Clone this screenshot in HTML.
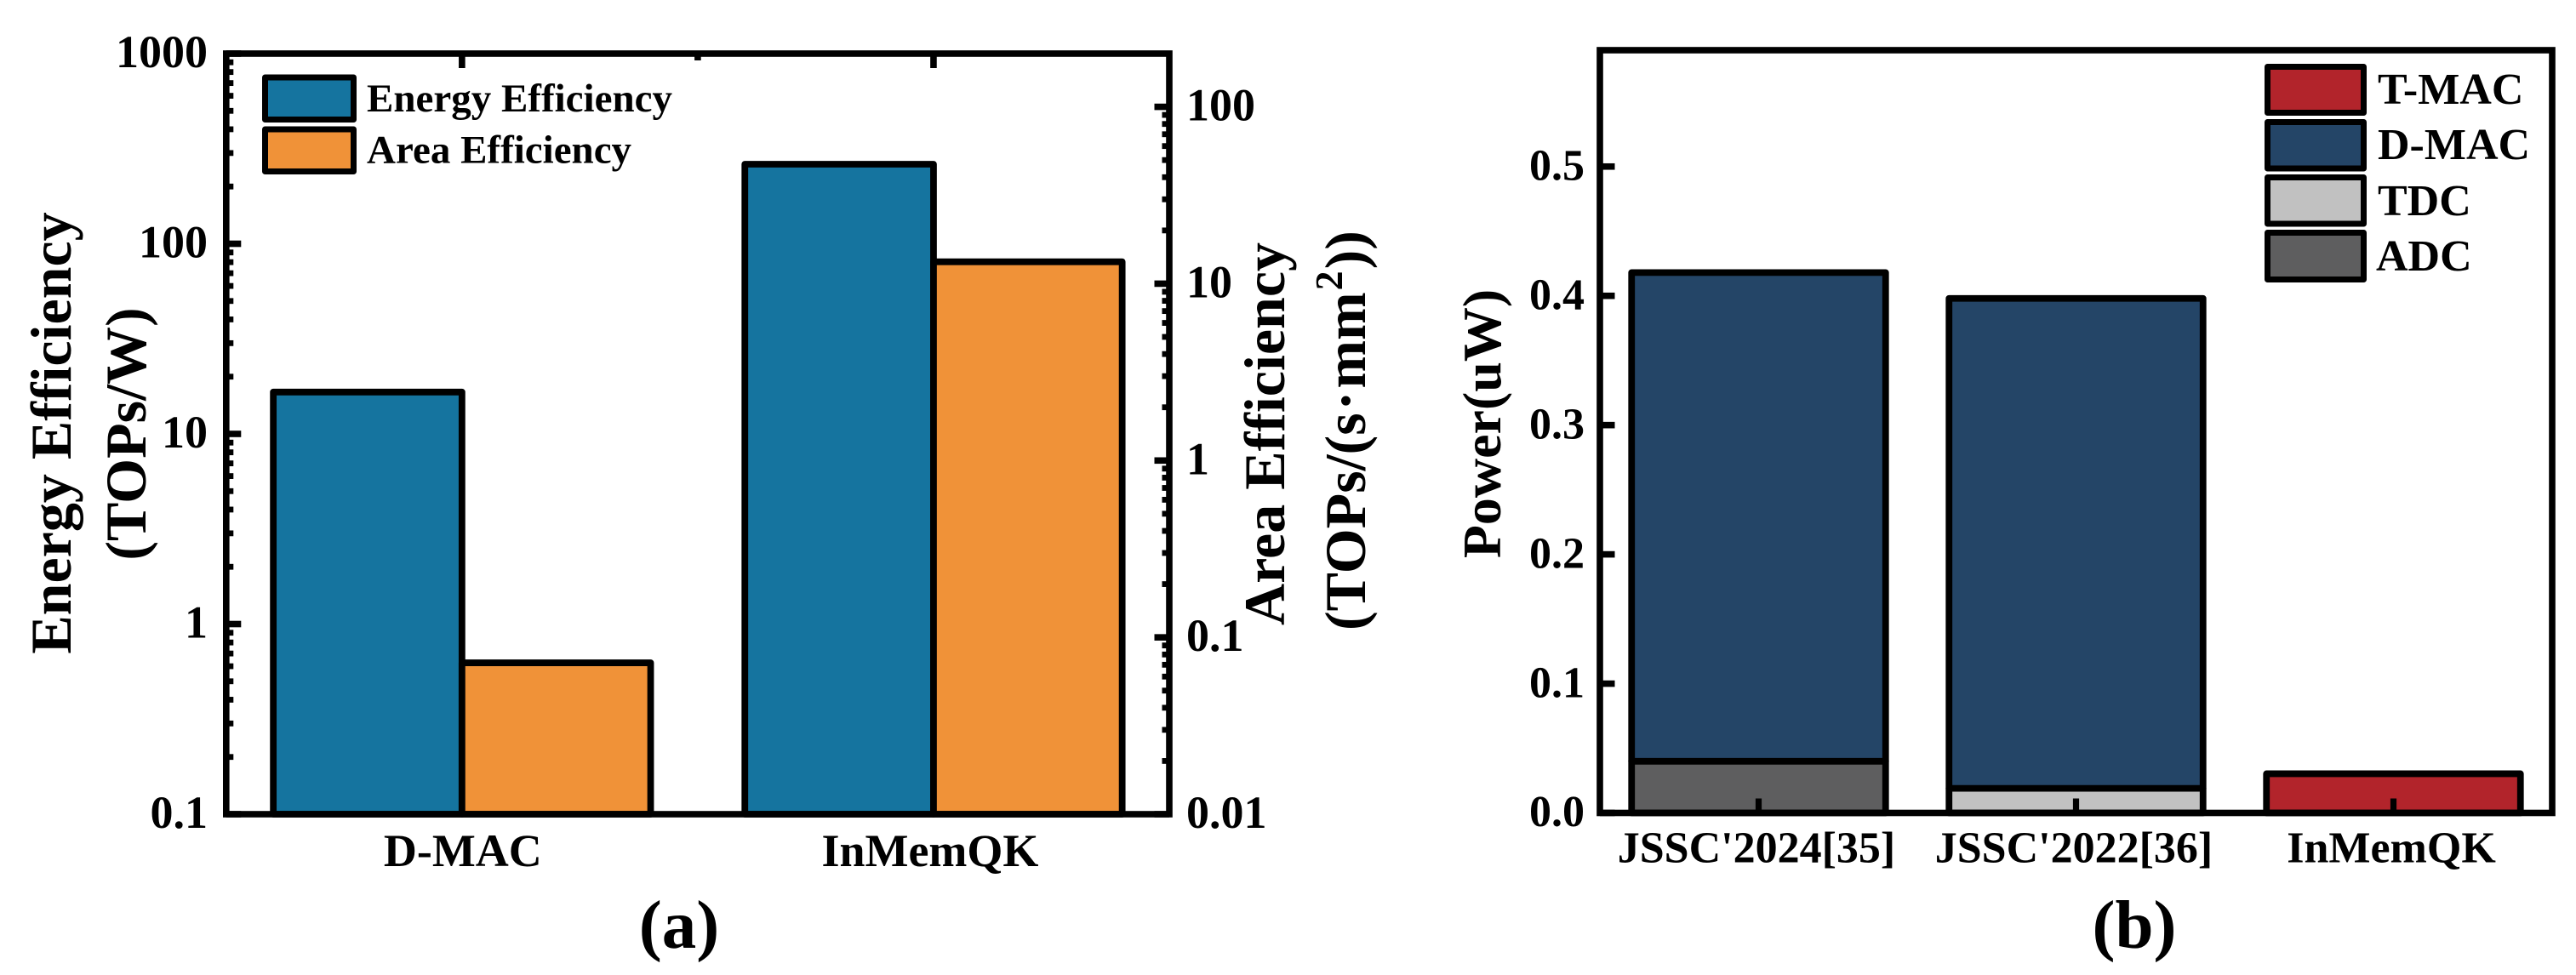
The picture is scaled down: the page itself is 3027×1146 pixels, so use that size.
<!DOCTYPE html>
<html lang="en">
<head>
<meta charset="utf-8">
<title>Efficiency and power comparison</title>
<style>
html,body{margin:0;padding:0;background:#fff}
svg{display:block}
text{font-family:"Liberation Serif",serif;font-weight:bold;fill:#000}
.sw{stroke:#000;stroke-width:7;stroke-linejoin:round}
</style>
</head>
<body>
<svg id="figure" xmlns="http://www.w3.org/2000/svg" width="3027" height="1146" viewBox="0 0 3027 1146">
  <rect width="3027" height="1146" fill="#fff"/>
  <g id="panelA"></g>
  <g id="panelB"></g>

  <text font-size="68" text-anchor="middle" transform="translate(83 509) rotate(-90)">Energy Efficiency</text>
  <text font-size="68" text-anchor="middle" transform="translate(171 510) rotate(-90)">(TOPs/W)</text>
  <text font-size="68" text-anchor="middle" transform="translate(1509 510) rotate(-90)">Area Efficiency</text>
  <text font-size="68" transform="translate(1604 741) rotate(-90)">(TOPs/(s<tspan dx="3">·</tspan><tspan dx="3">mm</tspan><tspan font-size="46" dx="2" dy="-27">2</tspan><tspan dx="2" dy="27">))</tspan></text>
  <text font-size="64" text-anchor="middle" transform="translate(1763 498) rotate(-90)">Power(uW)</text>

  <g>
    <g>
      <rect class="sw" x="311.5" y="91" width="104" height="49.5" fill="#15749F"/>
      <text x="431" y="131" font-size="47">Energy Efficiency</text>
    </g>
    <g>
      <rect class="sw" x="311.5" y="152" width="104" height="49.5" fill="#F09238"/>
      <text x="431" y="191.5" font-size="47">Area Efficiency</text>
    </g>
  </g>

  <g>
    <g>
      <rect class="sw" x="2664.5" y="78.5" width="113" height="54" fill="#B2242B"/>
      <text x="2794" y="122" font-size="52">T-MAC</text>
    </g>
    <g>
      <rect class="sw" x="2664.5" y="143.5" width="113" height="54.5" fill="#244567"/>
      <text x="2794" y="187" font-size="52">D-MAC</text>
    </g>
    <g>
      <rect class="sw" x="2664.5" y="208.5" width="113" height="54.5" fill="#C1C1C1"/>
      <text x="2794" y="253" font-size="52">TDC</text>
    </g>
    <g>
      <rect class="sw" x="2664.5" y="273.5" width="113" height="55" fill="#5E5E5F"/>
      <text x="2792" y="318" font-size="52">ADC</text>
    </g>
  </g>

  <text x="798" y="1114" font-size="81" text-anchor="middle">(a)</text>
  <text x="2508" y="1114" font-size="81" text-anchor="middle">(b)</text>
</svg>

<script>
// Panel (a) data
const effCategories = ["D-MAC", "InMemQK"];
const energyEfficiency = [16.6, 262];
const areaEfficiency = [0.0718, 13.3];
const energyTicks = [0.1, 1, 10, 100, 1000];
const energyTickLabels = ["0.1", "1", "10", "100", "1000"];
const areaTicks = [0.01, 0.1, 1, 10, 100];
const areaTickLabels = ["0.01", "0.1", "1", "10", "100"];
const minorMultipliers = [2, 3, 4, 5, 6, 7, 8, 9];

// Panel (b) data
const powerCategories = ["JSSC'2024[35]", "JSSC'2022[36]", "InMemQK"];
const adcPower = [0.04, 0, 0];
const tdcPower = [0, 0.019, 0];
const dMacPower = [0.378, 0.379, 0];
const tMacPower = [0, 0, 0.0303];
const powerTicks = [0, 0.1, 0.2, 0.3, 0.4, 0.5];
const powerTickLabels = ["0.0", "0.1", "0.2", "0.3", "0.4", "0.5"];

const NS = "http://www.w3.org/2000/svg";
function mk(parent, tag, attrs, txt) {
  const el = document.createElementNS(NS, tag);
  for (const k in attrs) el.setAttribute(k, attrs[k]);
  if (txt !== undefined) el.textContent = txt;
  parent.appendChild(el);
  return el;
}

// Panel (a) scales
const aLeft = 265.8, aRight = 1374, aTop = 63, aBottom = 957;
const yEnergy = v => aBottom - (Math.log10(v) - Math.log10(0.1)) / (Math.log10(1000) - Math.log10(0.1)) * (aBottom - aTop);
const yArea = v => aBottom - (Math.log10(v) - Math.log10(0.01)) / (Math.log10(200) - Math.log10(0.01)) * (aBottom - aTop);
const xEff = i => aLeft + (i + 0.5) * (aRight - aLeft) / effCategories.length;
const effBarWidth = 221.7;

// Panel (b) scales
const bLeft = 1880, bRight = 2999, bTop = 59, bBottom = 955.5;
const yPower = v => bBottom - v / 0.59 * (bBottom - bTop);
const xPower = i => bLeft + (i + 0.5) * (bRight - bLeft) / powerCategories.length;
const powerBarWidth = 298.5;

const panelA = document.getElementById("panelA");
const panelB = document.getElementById("panelB");
const barStyle = {stroke: "#000", "stroke-width": 7.8, "stroke-linejoin": "round"};

// ---- Panel (a) bars ----
effCategories.forEach((cat, i) => {
  const c = xEff(i);
  const e = mk(panelA, "rect", Object.assign({x: c - effBarWidth, y: yEnergy(energyEfficiency[i]), width: effBarWidth, height: aBottom - yEnergy(energyEfficiency[i]), fill: "#15749F"}, barStyle));
  
  
  const a = mk(panelA, "rect", Object.assign({x: c, y: yArea(areaEfficiency[i]), width: effBarWidth, height: aBottom - yArea(areaEfficiency[i]), fill: "#F09238"}, barStyle));
  
  
  const lab = mk(panelA, "text", {x: c - 5 * i + 1, y: 1018, "font-size": 54, "text-anchor": "middle"}, cat);
  
  
  const t = mk(panelA, "rect", {x: c - 3.8, y: aTop, width: 7.6, height: 17, fill: "#000"});
  
  
});
for (let i = 0; i < effCategories.length - 1; i++) {
  const m = mk(panelA, "rect", {x: (xEff(i) + xEff(i + 1)) / 2 - 3.8, y: aTop, width: 7.6, height: 8, fill: "#000"});
  
  
}

// ---- Panel (a) left axis ticks ----
energyTicks.forEach((v, i) => {
  const y = yEnergy(v);
  const t = mk(panelA, "rect", {x: aLeft, y: y - 3.8, width: 17.5, height: 7.6, fill: "#000"});
  
  
  const l = mk(panelA, "text", {x: 244, y: y + 16, "font-size": 54, "text-anchor": "end"}, energyTickLabels[i]);
  
  
  if (i < energyTicks.length - 1) {
    minorMultipliers.forEach(mul => {
      const m = mk(panelA, "rect", {x: aLeft, y: yEnergy(v * mul) - 3.4, width: 8.5, height: 6.8, fill: "#000"});
      
      
    });
  }
});

// ---- Panel (a) right axis ticks ----
areaTicks.forEach((v, i) => {
  const y = yArea(v);
  const t = mk(panelA, "rect", {x: aRight - 17.5, y: y - 3.8, width: 17.5, height: 7.6, fill: "#000"});
  
  
  const l = mk(panelA, "text", {x: 1394, y: y + 16, "font-size": 54}, areaTickLabels[i]);
  
  
  if (i < areaTicks.length - 1) {
    minorMultipliers.forEach(mul => {
      const m = mk(panelA, "rect", {x: aRight - 8.5, y: yArea(v * mul) - 3.4, width: 8.5, height: 6.8, fill: "#000"});
      
      
    });
  }
});

const frameA = mk(panelA, "rect", {x: aLeft, y: aTop, width: aRight - aLeft, height: aBottom - aTop, fill: "none", stroke: "#000", "stroke-width": 7.6});



// ---- Panel (b) stacked bars ----
const stackOrder = [
  {key: "adc", values: adcPower, color: "#5E5E5F"},
  {key: "tdc", values: tdcPower, color: "#C1C1C1"},
  {key: "d-mac", values: dMacPower, color: "#244567"},
  {key: "t-mac", values: tMacPower, color: "#B2242B"}
];
powerCategories.forEach((cat, i) => {
  const c = xPower(i);
  let base = 0;
  stackOrder.forEach(s => {
    const v = s.values[i];
    if (v <= 0) return;
    const r = mk(panelB, "rect", Object.assign({x: c - powerBarWidth / 2, y: yPower(base + v), width: powerBarWidth, height: yPower(base) - yPower(base + v), fill: s.color}, barStyle));
    
    
    base += v;
  });
  const t = mk(panelB, "rect", {x: c - 3.6, y: bBottom - 17, width: 7.2, height: 17, fill: "#000"});
  
  
  const lab = mk(panelB, "text", {x: c - 2.5, y: 1013.5, "font-size": 52, "text-anchor": "middle"}, cat);
  
  
});

powerTicks.forEach((v, i) => {
  const y = yPower(v);
  const t = mk(panelB, "rect", {x: bLeft, y: y - 3.8, width: 17.5, height: 7.6, fill: "#000"});
  
  
  const l = mk(panelB, "text", {x: 1862, y: y + 15.7, "font-size": 52, "text-anchor": "end"}, powerTickLabels[i]);
  
  
});

const frameB = mk(panelB, "rect", {x: bLeft, y: bTop, width: bRight - bLeft, height: bBottom - bTop, fill: "none", stroke: "#000", "stroke-width": 7.6});


</script>
</body>
</html>
